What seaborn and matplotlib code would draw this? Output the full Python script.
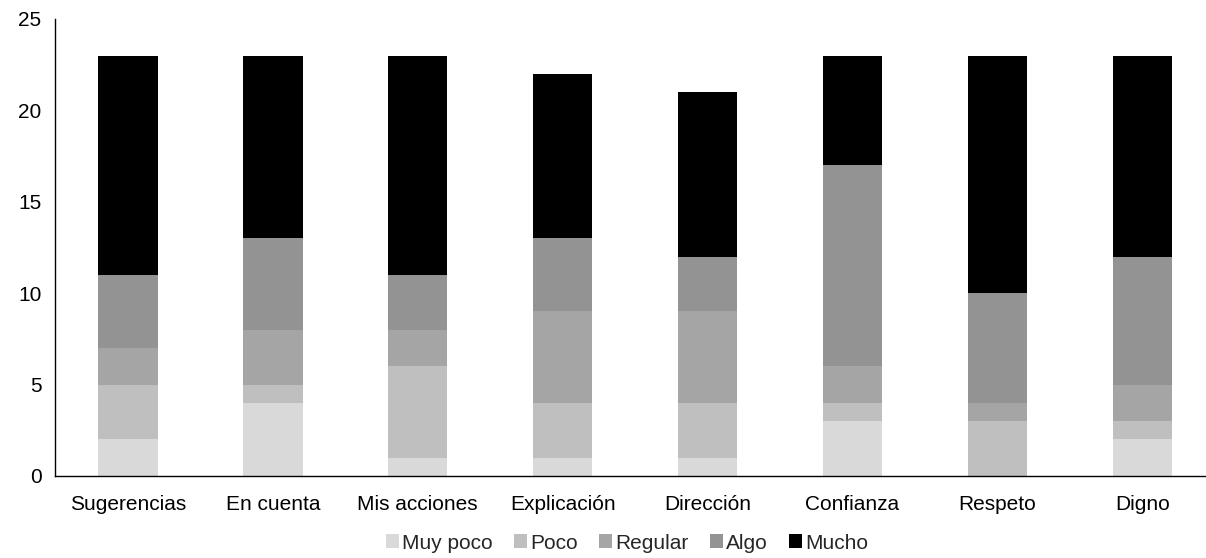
import numpy as np
import pandas as pd
import matplotlib
matplotlib.use("Agg")
import matplotlib.pyplot as plt
import seaborn as sns
from matplotlib.patches import Patch

categories = ["Sugerencias", "En cuenta", "Mis acciones", "Explicación",
              "Dirección", "Confianza", "Respeto", "Digno"]
muy_poco = [2, 4, 1, 1, 1, 3, 0, 2]
poco = [3, 1, 5, 3, 3, 1, 3, 1]
regular = [2, 3, 2, 5, 5, 2, 1, 2]
algo = [4, 5, 3, 4, 3, 11, 6, 7]
mucho = [12, 10, 12, 9, 9, 6, 13, 11]

series_names = ["Muy poco", "Poco", "Regular", "Algo", "Mucho"]
series_values = [muy_poco, poco, regular, algo, mucho]
colors = ["#d9d9d9", "#bfbfbf", "#a5a5a5", "#939393", "#000000"]

sns.set_theme(style="white")
plt.rcParams["font.family"] = ["Liberation Sans", "DejaVu Sans"]

fig = plt.figure(figsize=(12.06, 5.58), dpi=100)
ax = fig.add_axes([0.046, 0.147, 0.954, 0.819])

# Stacked bars: draw cumulative totals from the top segment down
cum = np.cumsum(np.array(series_values), axis=0)
for i in range(len(series_names) - 1, -1, -1):
    df = pd.DataFrame({"cat": categories, "val": cum[i]})
    sns.barplot(data=df, x="cat", y="val", color=colors[i], width=0.41,
                saturation=1, ax=ax, linewidth=0)

ax.set_ylim(0, 25)
ax.set_xlim(-0.5, 7.44)
ax.set_yticks([0, 5, 10, 15, 20, 25])
ax.set_xlabel("")
ax.set_ylabel("")
ax.tick_params(axis="both", labelsize=15, length=0, colors="#000000")
ax.tick_params(axis="y", pad=10)
ax.tick_params(axis="x", pad=14)
for s in ["top", "right"]:
    ax.spines[s].set_visible(False)
for s in ["left", "bottom"]:
    ax.spines[s].set_color("#000000")
    ax.spines[s].set_linewidth(1.0)

handles = [Patch(facecolor=c, edgecolor="none") for c in colors]
fig.legend(handles, series_names, loc="lower center", ncol=5, frameon=False,
           fontsize=15, bbox_to_anchor=(0.52, -0.024), handlelength=0.65,
           handleheight=0.65, handletextpad=0.15, columnspacing=1.0)

fig.savefig("out.png", dpi=100)
